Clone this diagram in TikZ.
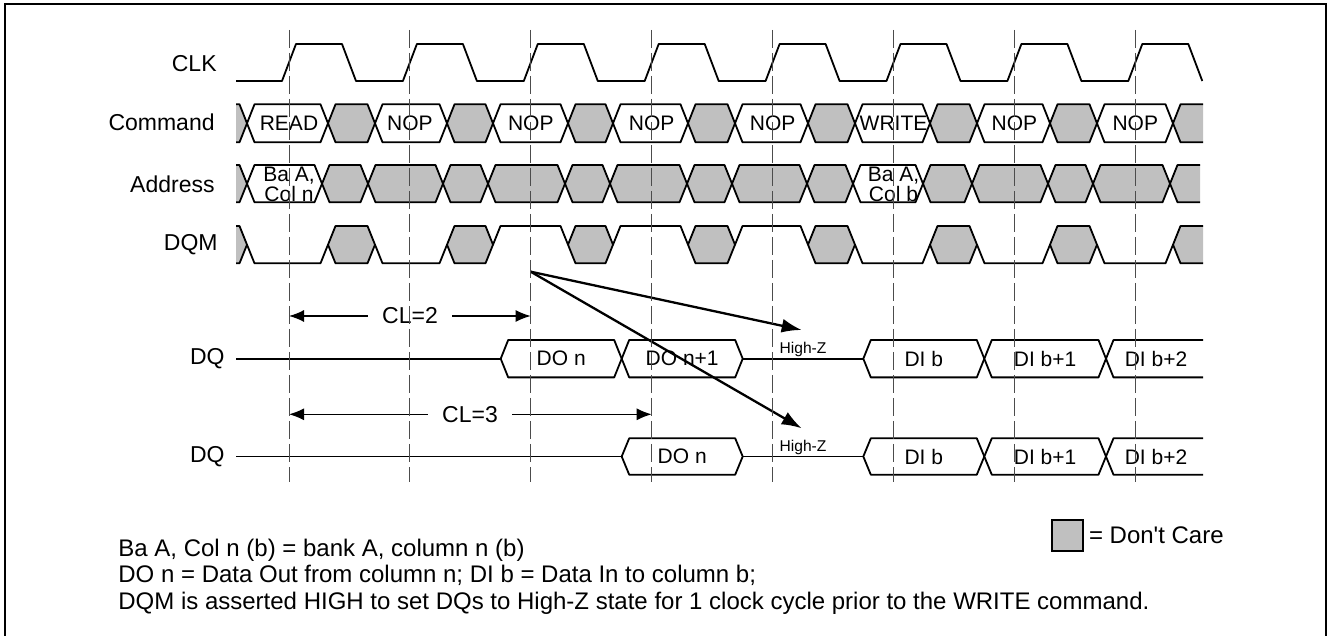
\documentclass[tikz,border=0pt]{standalone}
\usepackage{fontspec}
\setmainfont{Liberation Sans}
\usetikzlibrary{arrows.meta,positioning}
\definecolor{dcgray}{RGB}{192,192,192}

\tikzset{
  wave/.style={line width=0.9pt, line join=round},
  dcfill/.style={fill=dcgray},
  siglabel/.style={anchor=east, inner sep=0pt, font=\fontsize{11.5}{13}\selectfont},
  bustext/.style={inner sep=0pt, font=\fontsize{10.5}{12}\selectfont},
  addrtext/.style={inner sep=0pt, align=center, font=\fontsize{10.5}{7.5}\selectfont},
  hiz/.style={inner sep=0pt, font=\fontsize{7.8}{9}\selectfont},
  clkline/.style={black!70, line width=0.5pt, dash pattern=on 9pt off 2.5pt},
  latency/.style={inner sep=7pt, font=\fontsize{11.5}{13}\selectfont},
  latarrow/.style={line width=0.65pt, -{Latex[length=7.5pt,width=6pt]}},
  dqmarrow/.style={line width=1.15pt, -{Latex[length=10pt,width=7pt]}},
  note/.style={anchor=base west, inner sep=0pt, font=\fontsize{12}{14}\selectfont},
}

\begin{document}
\begin{tikzpicture}[x=0.5pt, y=-0.5pt]
\useasboundingbox (0,0) rectangle (1329,636);
\draw[line width=0.75pt] (5,640) -- (5,4) -- (1326,4) -- (1326,640);

\node[siglabel] (clk) at (217,63.3) {CLK};
\node[siglabel] (cmd) at (215,122.5) {Command};
\node[siglabel] (addr) at (215,184.3) {Address};
\node[siglabel] (dqm) at (218,245) {DQM};
\node[siglabel] (dqa) at (225,358.8) {DQ};
\node[siglabel] (dqb) at (225,456.5) {DQ};

% clock
\draw[wave] (236,81) \foreach \k in {0,...,7} { -- ({289+120.9*\k-7},81) -- ({289+120.9*\k+7},44) -- ({289+120.9*\k+53},44) -- ({289+120.9*\k+67},81) };

% command
\fill[dcfill] (236,104.3) -- (239.5,104.3) -- (247,123.3) -- (239.5,142.3) -- (236,142.3) -- cycle;
\draw[wave] (236,104.3) -- (239.5,104.3) -- (247,123.3) -- (239.5,142.3) -- (236,142.3);
\foreach \a/\b in {328/375,447/493,568/613,688/735,808/855,930/977,1050/1097}
  \draw[wave, dcfill] (\a,123.3) -- ({\a+7.5},104.3) -- ({\b-7.5},104.3) -- (\b,123.3) -- ({\b-7.5},142.3) -- ({\a+7.5},142.3) -- cycle;
\fill[dcfill] (1173,123.3) -- (1180.5,104.3) -- (1203,104.3) -- (1203,142.3) -- (1180.5,142.3) -- cycle;
\draw[wave] (1203,104.3) -- (1180.5,104.3) -- (1173,123.3) -- (1180.5,142.3) -- (1203,142.3);
\foreach \a/\b/\k/\t in {247/328/0/READ, 375/447/1/NOP, 493/568/2/NOP, 613/688/3/NOP, 735/808/4/NOP, 855/930/5/WRITE, 977/1050/6/NOP, 1097/1173/7/NOP} {
  \draw[wave] (\a,123.3) -- ({\a+7.5},104.3) -- ({\b-7.5},104.3) -- (\b,123.3) -- ({\b-7.5},142.3) -- ({\a+7.5},142.3) -- cycle;
  \node[bustext] (cmd\k) at ({289+120.9*\k},123.3) {\t};
}

% address
\fill[dcfill] (236,165) -- (239.5,165) -- (247,183.7) -- (239.5,202.3) -- (236,202.3) -- cycle;
\draw[wave] (236,165) -- (239.5,165) -- (247,183.7) -- (239.5,202.3) -- (236,202.3);
\foreach \a/\b in {322/368,368/443,443/488,488/565,565/610,610/687,687/732,732/807,807/853,923/972,972/1048,1048/1093,1093/1170}
  \draw[wave, dcfill] (\a,183.7) -- ({\a+7.5},165) -- ({\b-7.5},165) -- (\b,183.7) -- ({\b-7.5},202.3) -- ({\a+7.5},202.3) -- cycle;
\fill[dcfill] (1170,183.7) -- (1177.5,165) -- (1200,165) -- (1200,202.3) -- (1177.5,202.3) -- cycle;
\draw[wave] (1200,165) -- (1177.5,165) -- (1170,183.7) -- (1177.5,202.3) -- (1200,202.3);
\foreach \a/\b in {247/322,853/923}
  \draw[wave] (\a,183.7) -- ({\a+7.5},165) -- ({\b-7.5},165) -- (\b,183.7) -- ({\b-7.5},202.3) -- ({\a+7.5},202.3) -- cycle;
\node[addrtext] (bacoln) at (289,184.5) {Ba A,\\Col n};
\node[addrtext] (bacolb) at (893.5,184.5) {Ba A,\\Col b};

% dqm
\fill[dcfill] (236,226) -- (239.5,226) -- (247,244.7) -- (239.5,263.3) -- (236,263.3) -- cycle;
\draw[wave] (236,226) -- (239.5,226) -- (247,244.7) -- (239.5,263.3) -- (236,263.3);
\foreach \a/\b in {328/375,447/493,568/613,688/735,808/855,930/977,1050/1097}
  \draw[wave, dcfill] (\a,244.7) -- ({\a+7.5},226) -- ({\b-7.5},226) -- (\b,244.7) -- ({\b-7.5},263.3) -- ({\a+7.5},263.3) -- cycle;
\fill[dcfill] (1173,244.7) -- (1180.5,226) -- (1203,226) -- (1203,263.3) -- (1180.5,263.3) -- cycle;
\draw[wave] (1203,226) -- (1180.5,226) -- (1173,244.7) -- (1180.5,263.3) -- (1203,263.3);
\foreach \a/\b/\y in {247/328/263.3, 375/447/263.3, 493/568/226, 613/688/226, 735/808/226, 855/930/263.3, 977/1050/263.3, 1097/1173/263.3}
  \draw[wave] (\a,244.7) -- ({\a+7.5},\y) -- ({\b-7.5},\y) -- (\b,244.7);

% dq, CL=2
\draw[wave] (236,358.7) -- (500.7,358.7);
\draw[wave] (742.7,358.7) -- (863.3,358.7);
\foreach \a/\b/\t [count=\i] in {500.7/621.7/DO n, 621.7/742.7/DO n+1, 863.3/984.3/DI b, 984.3/1106/DI b+1} {
  \draw[wave] (\a,358.7) -- ({\a+7.5},340) -- ({\b-7.5},340) -- (\b,358.7) -- ({\b-7.5},377.4) -- ({\a+7.5},377.4) -- cycle;
  \node[bustext] (dqa\i) at ({(\a+\b)/2},358.7) {\t};
}
\draw[wave] (1203,340) -- (1113.5,340) -- (1106,358.7) -- (1113.5,377.4) -- (1203,377.4);
\node[bustext] (dqa5) at (1156,358.7) {DI b+2};

% dq, CL=3
\draw[wave] (236,456.5) -- (621.7,456.5);
\draw[wave] (742.7,456.5) -- (863.3,456.5);
\foreach \a/\b/\t [count=\i] in {621.7/742.7/DO n, 863.3/984.3/DI b, 984.3/1106/DI b+1} {
  \draw[wave] (\a,456.5) -- ({\a+7.5},438.3) -- ({\b-7.5},438.3) -- (\b,456.5) -- ({\b-7.5},474.7) -- ({\a+7.5},474.7) -- cycle;
  \node[bustext] (dqb\i) at ({(\a+\b)/2},456.5) {\t};
}
\draw[wave] (1203,438.3) -- (1113.5,438.3) -- (1106,456.5) -- (1113.5,474.7) -- (1203,474.7);
\node[bustext] (dqb4) at (1156,456.5) {DI b+2};

\node[hiz] (hiza) at (803,349) {High-Z};
\node[hiz] (hizb) at (803,447) {High-Z};

% latency
\node[latency] (cl2) at (410,316) {CL=2};
\coordinate (cl2l) at (289,316);
\coordinate (cl2r) at (530.7,316);
\draw[latarrow] (cl2) -- (cl2l);
\draw[latarrow] (cl2) -- (cl2r);
\node[latency] (cl3) at (470,414.3) {CL=3};
\coordinate (cl3l) at (289,414.3);
\coordinate (cl3r) at (651.7,414.3);
\draw[latarrow] (cl3) -- (cl3l);
\draw[latarrow] (cl3) -- (cl3r);

\coordinate (dqmhi) at (530.7,271.7);
\coordinate (hizatip) at (801.7,330);
\coordinate (hizbtip) at (801.7,428.3);
\draw[dqmarrow] (dqmhi) -- (hizatip);
\draw[dqmarrow] (dqmhi) -- (hizbtip);

\foreach \k in {0,...,7}
  \draw[clkline] ({289+120.9*\k},30) -- ({289+120.9*\k},482);

% legend
\node[draw, line width=0.6pt, fill=dcgray, minimum size=15.5pt, inner sep=0pt] (dcbox) at (1067.5,535.5) {};
\node[right=2.5pt of dcbox, inner sep=0pt, font=\fontsize{12}{14}\selectfont] (dclabel) {= Don\textquotesingle t Care};
\node[note] (notea) at (118,556) {Ba A, Col n (b) = bank A, column n (b)};
\node[note] (noteb) at (118,582) {DO n = Data Out from column n; DI b = Data In to column b;};
\node[note] (notec) at (118,609) {DQM is asserted HIGH to set DQs to High-Z state for 1 clock cycle prior to the WRITE command.};
\end{tikzpicture}
\end{document}
